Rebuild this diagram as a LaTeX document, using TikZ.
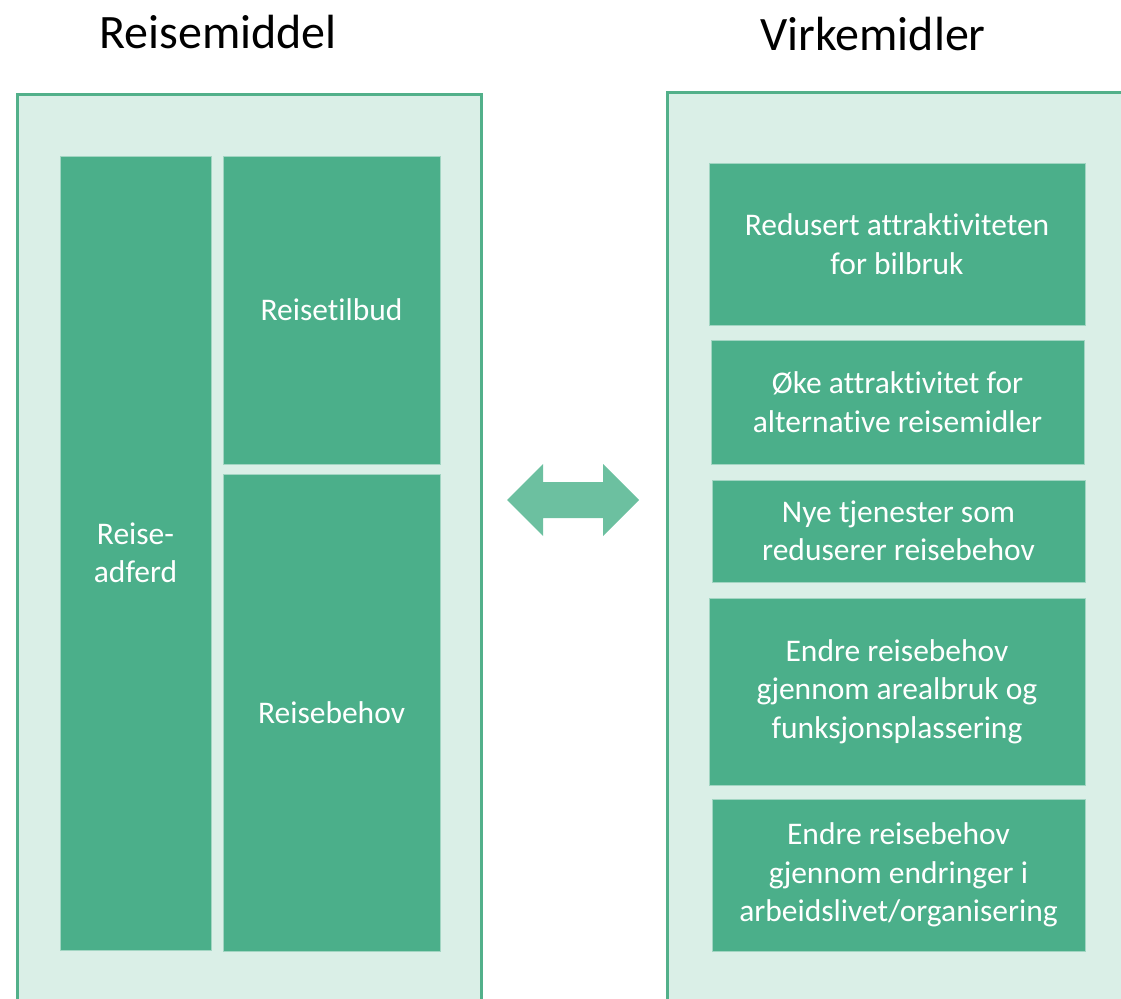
\documentclass[tikz,border=0pt]{standalone}
\usepackage{fontspec}
\setmainfont{Carlito}[Ligatures=NoCommon]
\definecolor{panelfill}{HTML}{DAEFE7}
\definecolor{panelline}{HTML}{52B08A}
\definecolor{boxgreen}{HTML}{4BAF8A}
\definecolor{arrowgreen}{HTML}{6CC0A0}
\tikzset{
  panel/.style={fill=panelfill,draw=panelline,line width=3pt},
  tbox/.style={fill=boxgreen,draw=panelfill!60!boxgreen,line width=0.8pt,text=white,align=center,
    font=\fontsize{31.5}{38.5}\selectfont,inner sep=0pt,anchor=center},
  title/.style={font=\fontsize{48}{56}\selectfont,anchor=center}
}
\begin{document}
\begin{tikzpicture}[x=1pt,y=-1pt]
  \useasboundingbox (0,0) rectangle (1121,998);
  \clip (0,0) rectangle (1121,998);
  % panels
  \draw[panel] (17,94) rectangle (481,1010);
  \draw[panel] (667,92) rectangle (1135,1010);
  \node[title] (t1) at (218,32) {Reisemiddel};
  \node[title] (t2) at (873,34) {Virkemidler};
  % left side
  \node[tbox,minimum width=151pt,minimum height=794pt] (adferd) at (135.5,553) {Reise-\\adferd};
  \node[tbox,minimum width=217pt,minimum height=308pt] (tilbud) at (331.5,310) {Reisetilbud};
  \node[tbox,minimum width=217pt,minimum height=477pt] (behov) at (331.5,712.5) {Reisebehov};
  % right side
  \node[tbox,minimum width=376pt,minimum height=162pt] (v1) at (897,244) {Redusert attraktiviteten\\for bilbruk};
  \node[tbox,minimum width=373pt,minimum height=124pt] (v2) at (897.5,402) {Øke attraktivitet for\\alternative reisemidler};
  \node[tbox,minimum width=373pt,minimum height=102pt] (v3) at (898.5,531) {Nye tjenester som\\reduserer reisebehov};
  \node[tbox,minimum width=376pt,minimum height=187pt] (v4) at (897,691.5) {Endre reisebehov\\gjennom arealbruk og\\funksjonsplassering};
  \node[tbox,minimum width=373pt,minimum height=152pt] (v5) at (898.5,875) {Endre reisebehov\\gjennom endringer i\\arbeidslivet/organisering};
  % double arrow
  \fill[arrowgreen] (507,500) -- (543,464) -- (543,482) -- (603,482) -- (603,464) -- (639,500)
    -- (603,536) -- (603,518) -- (543,518) -- (543,536) -- cycle;
\end{tikzpicture}
\end{document}
